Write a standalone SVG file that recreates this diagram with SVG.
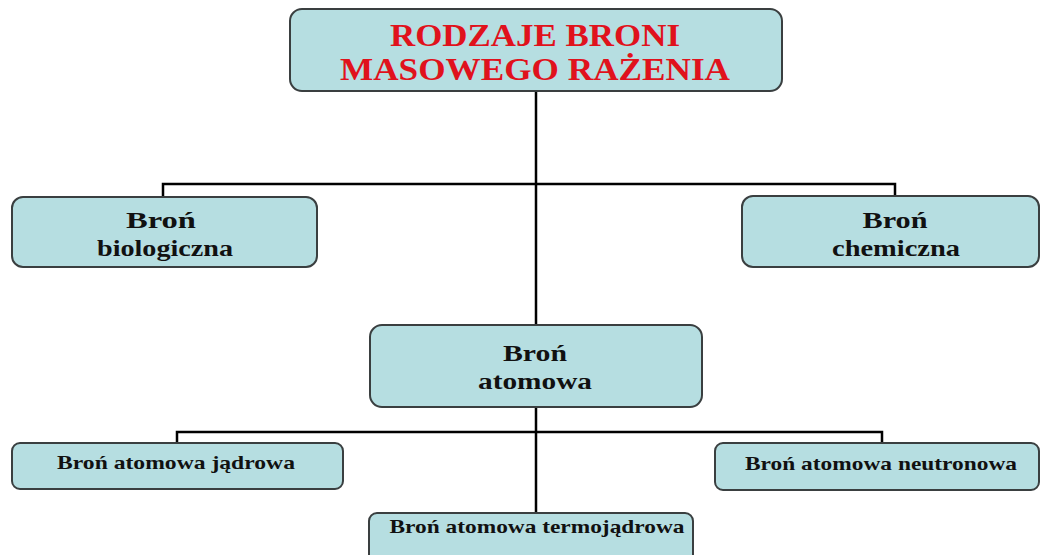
<svg xmlns="http://www.w3.org/2000/svg" width="1041" height="555" viewBox="0 0 1041 555">
<style>
.box{fill:#b6dee1;stroke:#3a3f40;stroke-width:2}
.t{font-family:"Liberation Serif",serif;font-weight:bold;fill:#111}
.title{font-family:"Liberation Serif",serif;font-weight:bold;fill:#e0121c;font-size:31px}
.c{fill:none;stroke:#000;stroke-width:2.5}
</style>
<rect width="1041" height="555" fill="#fff"/>
<g id="connectors">
<path class="c" d="M536 91 V325 M536 407 V513"/>
<path class="c" d="M163 197 V184 H895 V197"/>
<path class="c" d="M177 443 V432 H882 V443"/>
</g>
<g id="root">
<rect class="box" x="290" y="9" width="492" height="82" rx="12"/>
<text class="title" x="535" y="46" text-anchor="middle" textLength="290" lengthAdjust="spacingAndGlyphs">RODZAJE BRONI</text>
<text class="title" x="535" y="80" text-anchor="middle" textLength="390" lengthAdjust="spacingAndGlyphs">MASOWEGO RAŻENIA</text>
</g>
<g id="bio">
<rect class="box" x="12" y="197" width="305" height="70" rx="11"/>
<text class="t" font-size="23" x="161" y="228" text-anchor="middle" textLength="70" lengthAdjust="spacingAndGlyphs">Broń</text>
<text class="t" font-size="23" x="165" y="256" text-anchor="middle" textLength="136" lengthAdjust="spacingAndGlyphs">biologiczna</text>
</g>
<g id="chem">
<rect class="box" x="742" y="196" width="297" height="71" rx="11"/>
<text class="t" font-size="23" x="895" y="228" text-anchor="middle" textLength="65" lengthAdjust="spacingAndGlyphs">Broń</text>
<text class="t" font-size="23" x="896" y="256" text-anchor="middle" textLength="128" lengthAdjust="spacingAndGlyphs">chemiczna</text>
</g>
<g id="atom">
<rect class="box" x="370" y="325" width="332" height="82" rx="12"/>
<text class="t" font-size="23" x="535" y="361" text-anchor="middle" textLength="64" lengthAdjust="spacingAndGlyphs">Broń</text>
<text class="t" font-size="23" x="535" y="389" text-anchor="middle" textLength="114" lengthAdjust="spacingAndGlyphs">atomowa</text>
</g>
<g id="jadrowa">
<rect class="box" x="12" y="443" width="331" height="46" rx="8"/>
<text class="t" font-size="19" x="176" y="469" text-anchor="middle" textLength="238" lengthAdjust="spacingAndGlyphs">Broń atomowa jądrowa</text>
</g>
<g id="neutronowa">
<rect class="box" x="715" y="443" width="324" height="47" rx="8"/>
<text class="t" font-size="19" x="881" y="470" text-anchor="middle" textLength="272" lengthAdjust="spacingAndGlyphs">Broń atomowa neutronowa</text>
</g>
<g id="termojadrowa">
<rect class="box" x="369" y="513" width="324" height="60" rx="8"/>
<text class="t" font-size="19" x="537" y="533" text-anchor="middle" textLength="295" lengthAdjust="spacingAndGlyphs">Broń atomowa termojądrowa</text>
</g>
</svg>
